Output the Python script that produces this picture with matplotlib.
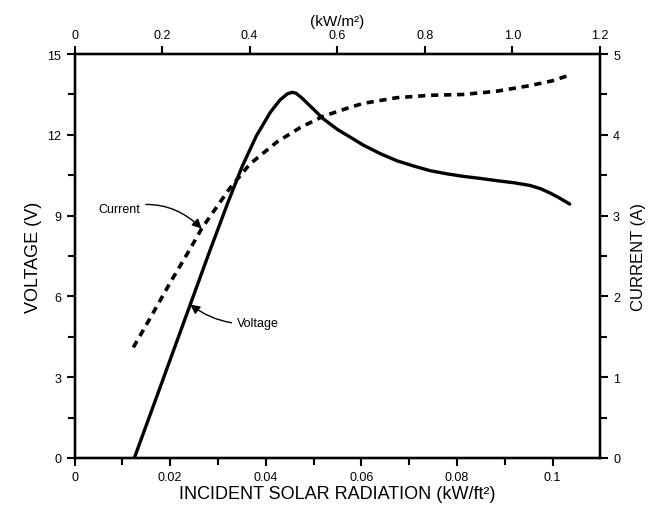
import matplotlib
matplotlib.use("Agg")
import matplotlib.pyplot as plt
from matplotlib.ticker import MultipleLocator

plt.rcParams['font.family'] = ['Liberation Sans', 'DejaVu Sans']

# Voltage curve (kW/ft^2, V)
volt_x = [0.0125, 0.0160, 0.0200, 0.0240, 0.0280, 0.0320, 0.0350, 0.0380, 0.0410,
          0.0430, 0.0445, 0.0455, 0.0463, 0.0475, 0.0500, 0.0520, 0.0550, 0.0580,
          0.0604, 0.0640, 0.0674, 0.0710, 0.0744, 0.0780, 0.0813, 0.0850, 0.0883,
          0.0920, 0.0953, 0.0975, 0.0995, 0.1015, 0.1036]
volt_y = [0.0, 1.70, 3.65, 5.60, 7.55, 9.45, 10.80, 11.95, 12.85,
          13.30, 13.52, 13.58, 13.55, 13.38, 12.95, 12.60, 12.20, 11.88,
          11.62, 11.30, 11.04, 10.84, 10.67, 10.55, 10.46, 10.38, 10.30,
          10.22, 10.12, 10.00, 9.84, 9.65, 9.43]

# Current curve (kW/ft^2, A)
curr_x = [0.0123, 0.0160, 0.0200, 0.0240, 0.0266, 0.0300, 0.0325, 0.0367, 0.0423,
          0.0472, 0.0520, 0.0576, 0.0604, 0.0674, 0.0744, 0.0813, 0.0883, 0.0953,
          0.1000, 0.1036]
curr_y = [1.37, 1.75, 2.17, 2.57, 2.84, 3.13, 3.34, 3.64, 3.91,
          4.09, 4.23, 4.34, 4.39, 4.46, 4.49, 4.50, 4.54, 4.61,
          4.67, 4.74]

x_ticks = [0, 0.02, 0.04, 0.06, 0.08, 0.1]
x_ticklabels = ['0', '0.02', '0.04', '0.06', '0.08', '0.1']
top_ticks = [0, 0.2, 0.4, 0.6, 0.8, 1.0, 1.2]
top_ticklabels = ['0', '0.2', '0.4', '0.6', '0.8', '1.0', '1.2']
v_ticks = [0, 3, 6, 9, 12, 15]
i_ticks = [0, 1, 2, 3, 4, 5]

fig = plt.figure(figsize=(6.57, 5.10), dpi=100)
ax = fig.add_axes([0.1135, 0.1, 0.7995, 0.792])
XMAX = 0.1099
ax.set_xlim(0, XMAX)
ax.set_ylim(0, 15)

ax.plot(volt_x, volt_y, color='black', lw=2.4, solid_capstyle='round',
        solid_joinstyle='round')

axr = ax.twinx()
axr.set_ylim(0, 5)
axr.plot(curr_x, curr_y, color='black', lw=2.6, linestyle=(0, (2.0, 1.6)))

axt = ax.twiny()
axt.set_xlim(0, 1.2)

for a in (ax, axr, axt):
    for s in a.spines.values():
        s.set_linewidth(1.6)

ax.set_xticks(x_ticks)
ax.set_xticklabels(x_ticklabels)
ax.xaxis.set_minor_locator(MultipleLocator(0.01))
ax.set_yticks(v_ticks)
ax.yaxis.set_minor_locator(MultipleLocator(1.5))
axr.set_yticks(i_ticks)
axr.yaxis.set_minor_locator(MultipleLocator(0.5))
axt.set_xticks(top_ticks)
axt.set_xticklabels(top_ticklabels)

ax.tick_params(axis='both', which='major', direction='out', length=6, width=1.5, labelsize=9)
ax.tick_params(axis='both', which='minor', direction='out', length=5, width=1.5)
axr.tick_params(axis='y', which='major', direction='out', length=6, width=1.5, labelsize=9)
axr.tick_params(axis='y', which='minor', direction='out', length=5, width=1.5)
axt.tick_params(axis='x', which='major', direction='out', length=6, width=1.5, labelsize=9)

ax.set_xlabel('INCIDENT SOLAR RADIATION (kW/ft²)', fontsize=13, labelpad=1)
ax.set_ylabel('VOLTAGE (V)', fontsize=13, labelpad=4)
axr.set_ylabel('CURRENT (A)', fontsize=12, labelpad=8)
axt.set_xlabel('(kW/m²)', fontsize=11, labelpad=3)

ax.annotate('Current', xy=(0.0266, 2.84 * 3), xytext=(0.0050, 9.25),
            fontsize=9, va='center', ha='left',
            arrowprops=dict(arrowstyle='-|>', color='black', lw=1.0,
                            mutation_scale=14, shrinkA=2, shrinkB=0,
                            connectionstyle='arc3,rad=-0.3'))
ax.annotate('Voltage', xy=(0.0242, 5.70), xytext=(0.0340, 5.0),
            fontsize=9, va='center', ha='left',
            arrowprops=dict(arrowstyle='-|>', color='black', lw=1.0,
                            mutation_scale=14, shrinkA=2, shrinkB=0,
                            connectionstyle='arc3,rad=-0.2'))

fig.savefig('out.png', dpi=100)
